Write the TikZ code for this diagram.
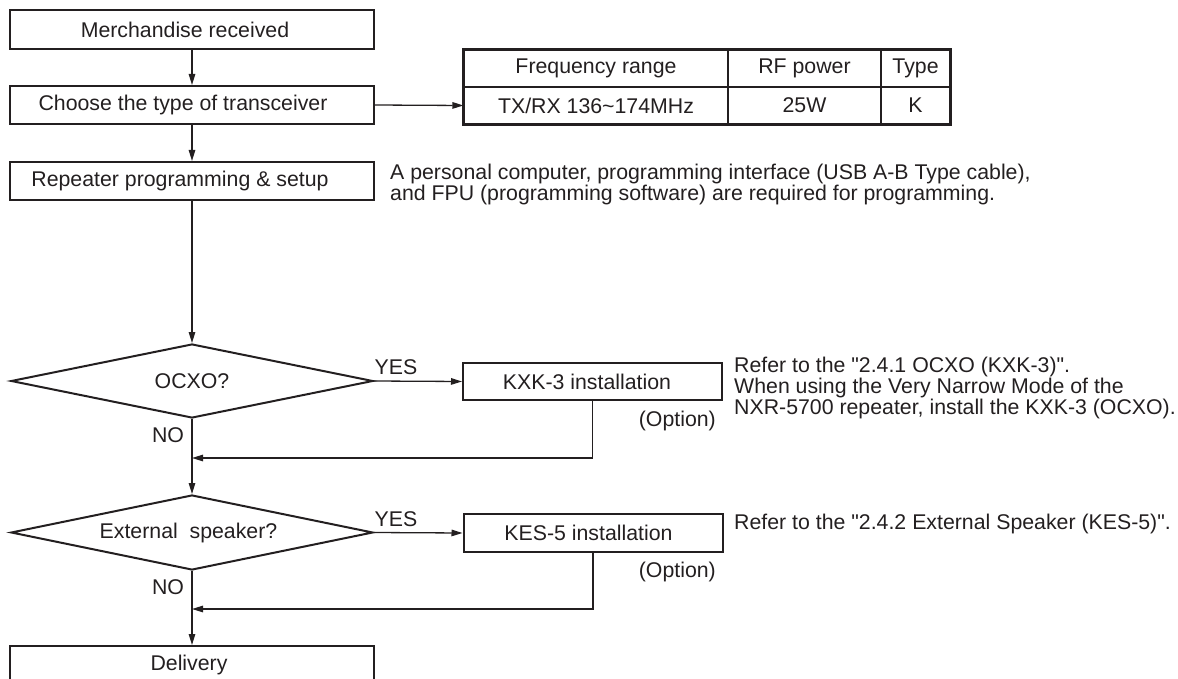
\documentclass[tikz,border=0pt]{standalone}
\usepackage{fontspec}
\setmainfont{Liberation Sans}[Ligatures=TeXOff]
\usetikzlibrary{shapes.geometric,arrows.meta}
\definecolor{ink}{RGB}{35,31,32}
\newcommand\padr[1]{\hspace*{#1pt}}
\begin{document}
\begin{tikzpicture}[x=1pt,y=-1pt,
  every node/.style={text=ink,font=\fontsize{21.3}{19}\selectfont},
  stepbox/.style={draw=ink,line width=2pt,minimum width=364pt,minimum height=38pt,inner sep=0pt},
  optbox/.style={draw=ink,line width=2pt,minimum width=259pt,minimum height=37pt,inner sep=0pt},
  decide/.style={draw=ink,line width=2pt,shape=diamond,aspect=4.9,minimum width=362pt,minimum height=74pt,inner sep=0pt},
  cell/.style={draw=ink,line width=1.2pt,minimum height=37pt,inner sep=0pt},
  conn/.style={draw=ink,line width=1.3pt,-{Triangle[length=11pt,width=6.5pt]}},
  note/.style={align=left,inner sep=0pt}
]
\useasboundingbox (0,0) rectangle (1178,679);

% main column
\node[stepbox,minimum height=39pt] (merch) at (192,29.5) {Merchandise received\padr{14}};
\node[stepbox] (choose) at (192,105) {Choose the type of transceiver\padr{18}};
\node[stepbox] (rep) at (192,181) {Repeater programming \& setup\padr{24}};
\node[decide] (ocxo) at (192,381) {OCXO?};
\node[decide,minimum height=75pt] (ext) at (192,532.5) {External\ \ speaker?\padr{7}};
\node[stepbox] (deliv) at (192,665) {Delivery\padr{6}};

% option boxes
\node[optbox] (kxk) at (592.5,381.5) {KXK-3 installation\padr{11}};
\node[optbox,minimum height=38pt] (kes) at (593,533) {KES-5 installation\padr{9}};

% table
\node[cell,minimum width=264pt] (t11) at (596,68.5) {Frequency range};
\node[cell,minimum width=153pt] (t12) at (804.5,68.5) {RF power};
\node[cell,minimum width=69pt] (t13) at (915.5,68.5) {Type};
\node[cell,minimum width=264pt] (t21) at (596,105.5) {TX/RX 136\char`\~174MHz};
\node[cell,minimum width=153pt] (t22) at (804.5,105.5) {25W};
\node[cell,minimum width=69pt] (t23) at (915.5,105.5) {K};
\draw[ink,line width=2pt] (t11.north west) rectangle (t23.south east);

% merge points
\coordinate (m1) at (192,458);
\coordinate (m2) at (192,609);

% connectors
\draw[conn] (merch.south) -- (choose.north);
\draw[conn] (choose.east) -- (t21.west);
\draw[conn] (choose.south) -- (rep.north);
\draw[conn] (rep.south) -- (ocxo.north);
\draw[conn] (ocxo.east) -- (kxk.west);
\draw[conn] (ocxo.south) -- (ext.north);
\draw[conn] (kxk.south) |- (m1);
\draw[conn] (ext.east) -- (kes.west);
\draw[conn] (ext.south) -- (deliv.north);
\draw[conn] (kes.south) |- (m2);

% labels
\node (yes1) at (396,367) {YES};
\node (yes2) at (396,519) {YES};
\node (no1) at (168,435) {NO};
\node (no2) at (168,587) {NO};
\node[anchor=east,inner sep=0pt] (opt1) at (716,421) {(Option)};
\node[anchor=east,inner sep=0pt] (opt2) at (716,572) {(Option)};

% notes
\node[note,anchor=base west] (pcnote) at (390,200.5) {A personal computer, programming interface (USB A-B Type cable),\\and FPU (programming software) are required for programming.};
\node[note,anchor=base west] (kxknote) at (734,414.5) {Refer to the "2.4.1 OCXO (KXK-3)".\\When using the Very Narrow Mode of the\\NXR-5700 repeater, install the KXK-3 (OCXO).};
\node[note,anchor=base west] (kesnote) at (734,529) {Refer to the "2.4.2 External Speaker (KES-5)".};
\end{tikzpicture}
\end{document}
